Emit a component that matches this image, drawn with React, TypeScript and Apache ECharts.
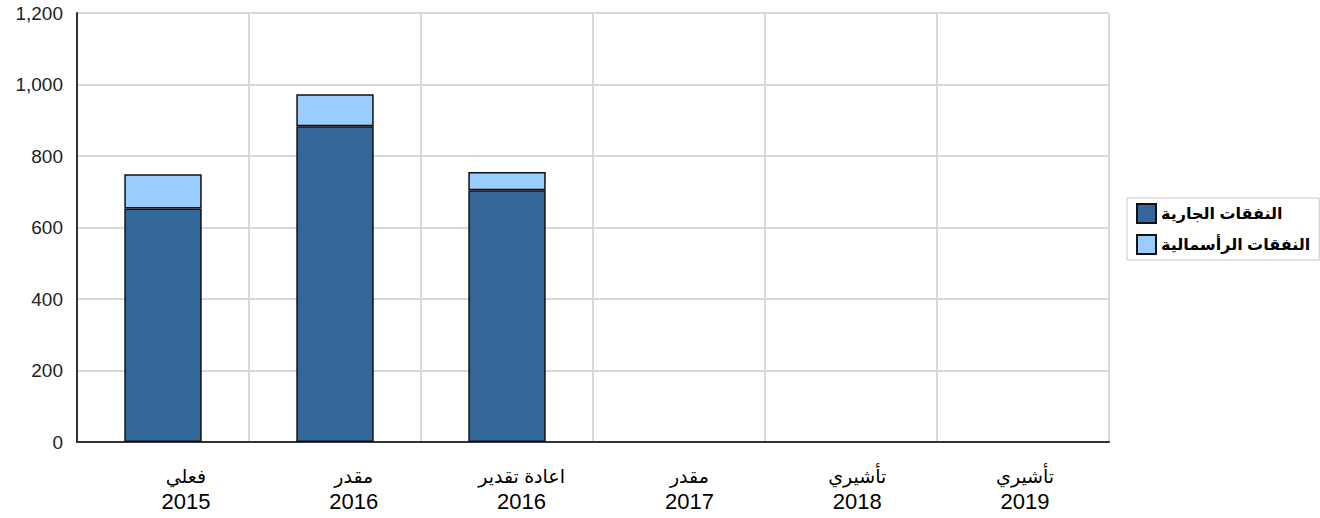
import React, { useEffect, useRef } from "react";
import * as echarts from "echarts";

const categoryNames = ["فعلي", "مقدر", "اعادة تقدير", "مقدر", "تأشيري", "تأشيري"];
const categoryYears = ["2015", "2016", "2016", "2017", "2018", "2019"];
const categories = categoryNames.map((n, i) => n + "|" + categoryYears[i]);

const seriesNames = ["النفقات الجارية", "النفقات الرأسمالية"];
const currentSpending = [653, 883, 704, null, null, null];
const capitalSpending = [96, 90, 51, null, null, null];

const yTicks = { min: 0, max: 1200, interval: 200 };

const FONT = "Arial, 'Liberation Sans', 'DejaVu Sans', sans-serif";

export default function App() {
  const ref = useRef<HTMLDivElement>(null);
  useEffect(() => {
    if (!ref.current) return;
    const chart = echarts.init(ref.current, null, { renderer: "svg" });
    chart.setOption({
      animation: false,
      backgroundColor: "#ffffff",
      textStyle: { fontFamily: FONT },
      legend: {
        orient: "vertical",
        left: 1127,
        top: 198,
        padding: [5, 9, 5, 9],
        icon: "rect",
        itemWidth: 19,
        itemHeight: 19,
        itemGap: 10,
        borderColor: "#c8c8c8",
        borderWidth: 1,
        textStyle: { fontFamily: FONT, fontSize: 16, fontWeight: "bold", color: "#000" },
        data: seriesNames,
      },
      grid: [
        { left: 77, right: 211, top: 13, bottom: 76 },
        { left: 102, right: 211, top: 13, bottom: 76 },
      ],
      xAxis: [
        {
          type: "category",
          gridIndex: 0,
          data: categories,
          boundaryGap: true,
          axisLine: { lineStyle: { color: "#333", width: 2 } },
          axisTick: { show: false },
          axisLabel: { show: false },
          splitLine: { show: true, lineStyle: { color: "#d9d9d9", width: 2 } },
        },
        {
          type: "category",
          gridIndex: 1,
          data: categories,
          boundaryGap: true,
          axisLine: { show: false },
          axisTick: { show: false },
          splitLine: { show: false },
          axisLabel: {
            interval: 0,
            margin: 22,
            formatter: (v: string) => {
              const [n, y] = v.split("|");
              return "{a|" + n + "}\n{b|" + y + "}";
            },
            rich: {
              a: { fontFamily: FONT, fontSize: 19, lineHeight: 25, color: "#000" },
              b: { fontFamily: FONT, fontSize: 22, lineHeight: 25, color: "#000" },
            },
          },
        },
      ],
      yAxis: [
        {
          type: "value",
          gridIndex: 0,
          min: yTicks.min,
          max: yTicks.max,
          interval: yTicks.interval,
          axisLine: { show: true, lineStyle: { color: "#333", width: 2 } },
          axisTick: { show: false },
          axisLabel: {
            margin: 14,
            fontFamily: FONT,
            fontSize: 19,
            color: "#222",
            formatter: (v: number) => v.toLocaleString("en-US"),
          },
          splitLine: { show: true, lineStyle: { color: "#d9d9d9", width: 2 } },
        },
        {
          type: "value",
          gridIndex: 1,
          min: yTicks.min,
          max: yTicks.max,
          show: false,
        },
      ],
      series: [
        {
          name: seriesNames[0],
          type: "bar",
          stack: "total",
          barWidth: "45%",
          data: currentSpending,
          itemStyle: { color: "#336699", borderColor: "#111", borderWidth: 1.5 },
        },
        {
          name: seriesNames[1],
          type: "bar",
          stack: "total",
          barWidth: "45%",
          data: capitalSpending,
          itemStyle: { color: "#99ccff", borderColor: "#111", borderWidth: 1.5 },
        },
      ],
    });
    return () => chart.dispose();
  }, []);
  return <div ref={ref} style={{ width: 1320, height: 518, position: "absolute", left: 0, top: 0 }} />;
}
